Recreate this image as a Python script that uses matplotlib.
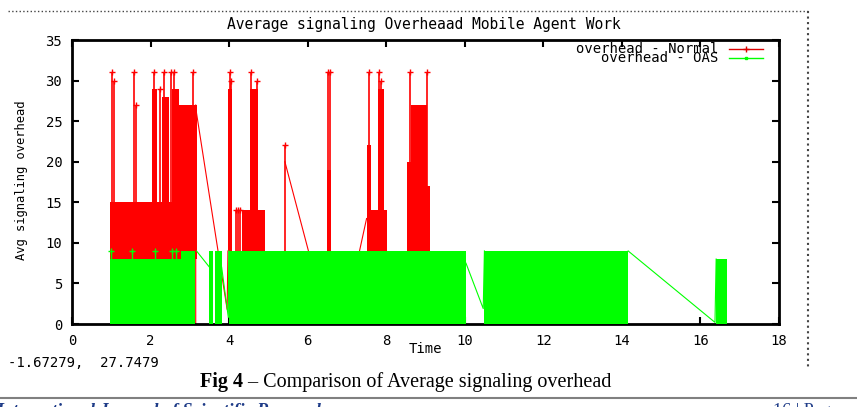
import numpy as np
import matplotlib
matplotlib.use('Agg')
import matplotlib.pyplot as plt
from matplotlib.lines import Line2D

nan = np.nan

# ---- overhead - Normal (red) ----
# dense bursts: start time, end time, low value, high value
red_blk_t0 = [0.97, 2.04, 2.30, 2.54, 2.72, 3.98, 4.34, 4.53, 6.48, 7.50, 7.52, 7.78, 8.53, 8.62, 9.05]
red_blk_t1 = [2.54, 2.16, 2.46, 2.72, 3.17, 4.08, 4.91, 4.74, 6.60, 8.01, 7.62, 7.95, 8.62, 9.05, 9.12]
red_blk_lo = [8, 15, 15, 8, 8, 9, 9, 14, 9, 9, 14, 14, 9, 9, 9]
red_blk_hi = [15, 29, 28, 29, 27, 29, 14, 29, 19, 14, 22, 29, 20, 27, 17]
# single spikes
red_spk_t = [1.03, 1.07, 1.58, 1.62, 2.09, 2.24, 2.35, 2.52, 2.60, 3.07, 4.02, 4.06,
             4.18, 4.22, 4.27, 4.57, 4.70, 5.42, 6.53, 6.57, 7.57, 7.82, 7.86, 8.60, 9.04]
red_spk_lo = [15, 15, 15, 15, 15, 15, 15, 15, 15, 15, 9, 9,
              9, 9, 9, 14, 14, 9, 9, 9, 14, 14, 14, 9, 9]
red_spk_hi = [31, 30, 31, 27, 31, 29, 31, 31, 31, 31, 31, 30,
              14, 14, 14, 31, 30, 22, 31, 31, 31, 31, 30, 31, 31]
# sparse joining lines
red_link_t = [3.15, 3.15, 3.17, 3.95, 3.97, nan, 5.42, 6.02, nan, 7.32, 7.50]
red_link_v = [0, 27, 26, 1.8, 9, nan, 20, 9, nan, 9, 13]

# ---- overhead - OAS (green) ----
grn_blk_t0 = [0.97, 2.78, 3.50, 3.64, 3.99, 10.50, 16.40]
grn_blk_t1 = [2.78, 3.12, 3.58, 3.81, 10.03, 14.16, 16.68]
grn_blk_lo = [0, 0, 0, 0, 0, 0, 0]
grn_blk_hi = [8, 9, 9, 9, 9, 9, 8]
grn_spk_t = [1.00, 1.52, 2.11, 2.54, 2.66]
grn_spk_lo = [8, 8, 8, 8, 8]
grn_spk_hi = [9, 9, 9, 9, 9]
grn_link_t = [3.17, 3.50, nan, 3.81, 3.98, 3.99, nan, 10.03, 10.47, 10.50, nan, 14.16, 16.37, 16.40]
grn_link_v = [9, 7, nan, 7, 0.8, 9, nan, 7.5, 1.9, 9, nan, 9, 0.2, 8]

RED = '#ff0000'
GRN = '#00ff00'

plt.rcParams['font.family'] = 'DejaVu Sans Mono'

fig = plt.figure(figsize=(8.57, 4.07), dpi=100)
ax = fig.add_axes([72/857, 83/407, 707/857, 284/407])

# red first, green drawn on top (like gnuplot)
ax.bar(red_blk_t0, np.subtract(red_blk_hi, red_blk_lo), width=np.subtract(red_blk_t1, red_blk_t0),
       bottom=red_blk_lo, align='edge', color=RED, lw=0, zorder=2)
ax.vlines(red_spk_t, red_spk_lo, red_spk_hi, color=RED, lw=1.2, zorder=2)
ax.plot(red_spk_t, red_spk_hi, ls='none', marker='+', ms=5, mew=1, color=RED, zorder=2)
ax.plot(red_link_t, red_link_v, color=RED, lw=0.8, zorder=2)

ax.bar(grn_blk_t0, np.subtract(grn_blk_hi, grn_blk_lo), width=np.subtract(grn_blk_t1, grn_blk_t0),
       bottom=grn_blk_lo, align='edge', color=GRN, lw=0, zorder=3)
ax.vlines(grn_spk_t, grn_spk_lo, grn_spk_hi, color=GRN, lw=1, zorder=3)
ax.plot(grn_spk_t, grn_spk_hi, ls='none', marker='+', ms=5, mew=1, color=GRN, zorder=3)
ax.plot(grn_link_t, grn_link_v, color=GRN, lw=0.8, zorder=3)

ax.set_xlim(0, 18)
ax.set_ylim(0, 35)
ax.set_xticks(range(0, 19, 2))
ax.set_yticks(range(0, 36, 5))
ax.tick_params(direction='in', top=True, right=True, length=5, width=1.5,
               labelsize=10, pad=7)
for s in ax.spines.values():
    s.set_linewidth(2)

# gnuplot style key, text right aligned
ax.text(0.914, 0.968, 'overhead - Normal', transform=ax.transAxes, ha='right', va='center', fontsize=10)
ax.text(0.914, 0.937, 'overhead - OAS', transform=ax.transAxes, ha='right', va='center', fontsize=10)
ax.plot([0.929, 0.953, 0.977], [0.968] * 3, transform=ax.transAxes, color='#dd0000', lw=1,
        marker='+', ms=4, markevery=[1])
ax.plot([0.929, 0.953, 0.977], [0.937] * 3, transform=ax.transAxes, color=GRN, lw=1,
        marker='s', ms=2, markevery=[1])

fig.text(423.5/857, 1 - 25/407, 'Average signaling Overheaad Mobile Agent Work',
         ha='center', va='center', fontsize=10.5)
fig.text(22/857, 1 - 180/407, 'Avg signaling overhead', rotation=90,
         ha='center', va='center', fontsize=8.7)
fig.text(425/857, 1 - 349/407, 'Time', ha='center', va='center', fontsize=10)
fig.text(8/857, 1 - 363/407, '-1.67279,  27.7479', ha='left', va='center', fontsize=10)

# dotted frame of the pasted screenshot
fig.add_artist(Line2D([8/857, 808/857], [1 - 11/407] * 2, transform=fig.transFigure,
                      ls=':', color='#444444', lw=1))
fig.add_artist(Line2D([808/857] * 2, [1 - 11/407, 1 - 368/407], transform=fig.transFigure,
                      ls=':', color='#444444', lw=1.5))

# caption
cap = fig.text(200/857, 1 - 382/407, 'Fig 4', ha='left', va='center', fontsize=14.5,
               family='Liberation Serif', weight='bold')
ax.annotate(' \u2013 Comparison of Average signaling overhead', xy=(1, 0.5), xycoords=cap,
            ha='left', va='center', fontsize=14.5, family='Liberation Serif')

# page rule and cut off running footer
fig.add_artist(Line2D([0, 1], [1 - 398/407] * 2, transform=fig.transFigure,
                      color='#808080', lw=1.5))
fig.text(-0.005, 1 - 403/407, 'International Journal of Scientific Research', ha='left', va='top',
         fontsize=13, family='Liberation Serif', style='italic', weight='bold', color='#1f3c88')
fig.text(773/857, 1 - 403/407, '16 | Page', ha='left', va='top',
         fontsize=13, family='Liberation Serif', color='#1f3c88')

fig.savefig('out.png', dpi=100)
